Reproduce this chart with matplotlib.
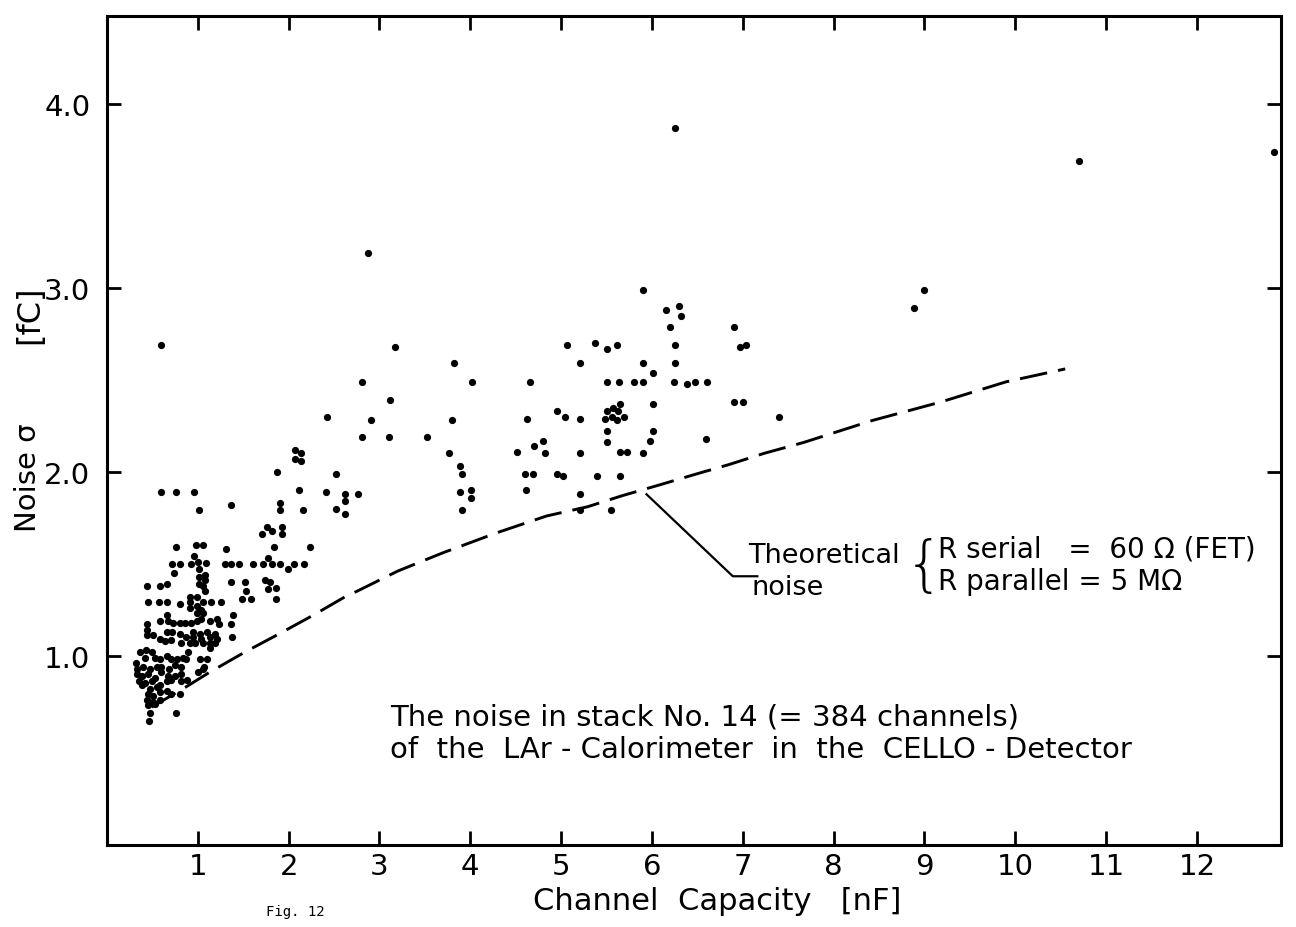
import matplotlib
matplotlib.use("Agg")
import matplotlib.pyplot as plt

plt.rcParams['font.family'] = ['DejaVu Sans']
plt.rcParams['lines.scale_dashes'] = False

# ---- data ----
capacity_nF = [
    # sparse upper region
    0.60, 2.87, 5.90, 6.15, 6.30, 6.32, 6.20, 6.90, 3.17, 6.25, 6.97, 7.04,
    5.06, 5.37, 5.51, 5.62, 3.82, 5.21, 5.90, 6.25, 6.01,
    2.81, 4.02, 4.66, 5.51, 5.64, 5.80, 5.90, 6.24, 6.39, 6.47, 6.61,
    3.12, 5.65, 6.01, 6.90, 7.00, 4.95, 5.50, 5.57, 5.63,
    5.48, 5.56, 5.61, 5.69, 2.91, 3.80, 4.62, 5.04, 5.21, 7.40, 2.42,
    5.51, 6.01, 2.81, 3.11, 3.52, 5.50, 5.98, 6.60, 4.80, 4.70,
    3.77, 4.51, 4.82, 5.21, 5.65, 5.73, 5.90,
    2.07, 2.14, 2.07, 2.14, 1.87, 2.52, 3.89, 3.91,
    4.60, 4.69, 4.95, 5.02, 5.40, 5.65, 2.76,
    3.89, 4.01, 4.01, 4.61, 5.21, 3.91, 5.21, 5.55,
    6.25, 8.88, 9.00, 10.70, 12.85,
    # middle-left region
    0.60, 0.76, 0.955, 1.01, 1.36, 1.90, 1.90, 2.16, 2.11, 2.41, 2.62,
    2.52, 2.62, 2.62, 1.76, 1.82, 1.71, 1.93, 1.93,
    0.755, 0.98, 1.06, 1.31, 1.84, 2.23, 0.955,
    0.72, 0.80, 0.93, 1.00, 1.09, 1.30, 1.37, 1.45,
    1.61, 1.72, 1.77, 1.82, 1.90, 1.99, 2.06, 2.17, 0.74,
    1.01, 1.01, 1.01, 1.08, 1.08, 1.06, 1.08, 0.44, 0.58, 0.66,
    1.36, 1.52, 1.53, 1.74, 1.79, 1.77, 1.86, 1.86,
    # dense cluster
    0.455, 0.575, 0.66, 0.80, 0.91, 0.99, 0.91, 0.99, 1.06, 1.15, 1.25,
    0.91, 1.04, 0.99, 1.06, 1.49, 1.59, 1.39,
    0.585, 0.675, 0.73, 0.80, 0.86, 0.93, 0.99, 1.04, 1.13, 0.66,
    1.21, 1.23, 1.37, 0.44, 0.44, 0.44, 0.51, 0.58, 0.64, 0.70,
    0.66, 0.72, 0.80, 0.87, 0.82, 0.95, 1.02, 1.10, 1.19, 0.95, 1.04, 1.13, 1.21,
    0.97, 1.06, 1.13, 1.19, 1.38, 0.91, 1.13,
    0.36, 0.43, 0.49, 0.42, 0.53, 0.58, 0.66, 0.71, 0.77, 0.84, 0.89, 0.87,
    1.02, 1.10, 1.07, 0.32, 0.33, 0.33,
    0.40, 0.47, 0.55, 0.60, 0.68, 0.75, 0.82,
    0.38, 0.45, 0.53, 0.60, 0.67, 0.75, 0.82, 1.00, 1.06,
    0.35, 0.42, 0.49, 0.58, 0.66, 0.71, 0.38, 0.47, 0.55, 0.82, 0.88,
    0.45, 0.51, 0.58, 0.66, 0.70, 0.80, 0.44, 0.51, 0.58,
    0.45, 0.53, 0.47, 0.76, 0.46,
]
noise_fC = [
    2.69, 3.19, 2.99, 2.88, 2.90, 2.85, 2.79, 2.79, 2.68, 2.69, 2.68, 2.69,
    2.69, 2.70, 2.67, 2.69, 2.59, 2.59, 2.59, 2.59, 2.54,
    2.49, 2.49, 2.49, 2.49, 2.49, 2.49, 2.49, 2.49, 2.48, 2.49, 2.49,
    2.39, 2.37, 2.37, 2.38, 2.38, 2.33, 2.33, 2.35, 2.33,
    2.29, 2.30, 2.28, 2.30, 2.28, 2.28, 2.29, 2.30, 2.29, 2.30, 2.30,
    2.22, 2.22, 2.19, 2.19, 2.19, 2.16, 2.17, 2.18, 2.17, 2.14,
    2.10, 2.11, 2.10, 2.10, 2.11, 2.11, 2.10,
    2.12, 2.10, 2.07, 2.06, 2.00, 1.99, 2.03, 1.99,
    1.99, 1.99, 1.99, 1.98, 1.98, 1.98, 1.88,
    1.89, 1.90, 1.86, 1.90, 1.88, 1.79, 1.79, 1.79,
    3.87, 2.89, 2.99, 3.69, 3.74,
    1.89, 1.89, 1.89, 1.79, 1.82, 1.83, 1.79, 1.79, 1.90, 1.89, 1.88,
    1.80, 1.84, 1.77, 1.70, 1.68, 1.66, 1.70, 1.66,
    1.59, 1.60, 1.60, 1.58, 1.59, 1.59, 1.54,
    1.50, 1.50, 1.50, 1.51, 1.505, 1.50, 1.50, 1.50,
    1.50, 1.50, 1.53, 1.50, 1.50, 1.47, 1.50, 1.50, 1.45,
    1.47, 1.43, 1.39, 1.44, 1.41, 1.38, 1.35, 1.38, 1.38, 1.39,
    1.40, 1.40, 1.35, 1.41, 1.40, 1.36, 1.37, 1.31,
    1.29, 1.29, 1.29, 1.28, 1.32, 1.32, 1.29, 1.27, 1.29, 1.29, 1.29,
    1.26, 1.25, 1.23, 1.23, 1.31, 1.31, 1.22,
    1.19, 1.19, 1.18, 1.18, 1.18, 1.18, 1.19, 1.20, 1.19, 1.22,
    1.20, 1.17, 1.17, 1.17, 1.14, 1.11, 1.11, 1.09, 1.08, 1.085,
    1.13, 1.13, 1.12, 1.10, 1.07, 1.13, 1.12, 1.13, 1.12, 1.10, 1.09, 1.10, 1.09,
    1.07, 1.07, 1.07, 1.07, 1.10, 1.07, 1.04,
    1.02, 1.03, 1.02, 0.99, 0.99, 0.98, 1.00, 0.98, 0.98, 0.99, 1.02, 0.98,
    0.98, 0.98, 0.94, 0.96, 0.93, 0.90,
    0.94, 0.93, 0.94, 0.94, 0.93, 0.95, 0.94,
    0.89, 0.90, 0.88, 0.91, 0.89, 0.89, 0.90, 0.91, 0.93,
    0.86, 0.85, 0.86, 0.84, 0.86, 0.87, 0.84, 0.82, 0.83, 0.86, 0.87,
    0.79, 0.78, 0.80, 0.81, 0.79, 0.79, 0.76, 0.75, 0.76,
    0.73, 0.735, 0.69, 0.69, 0.645,
]

theory_capacity = [0.49, 0.87, 1.13, 1.52, 1.90, 2.27, 2.62, 2.75, 3.2, 3.7,
                   4.3, 4.84, 5.29, 5.67, 6.09, 6.50, 6.85, 7.23, 7.67, 8.43,
                   9.18, 9.90, 10.55]
theory_noise = [0.72, 0.83, 0.91, 1.02, 1.12, 1.22, 1.32, 1.35, 1.46, 1.56,
                1.67, 1.76, 1.81, 1.87, 1.93, 1.99, 2.04, 2.10, 2.16, 2.28,
                2.38, 2.49, 2.56]

x_ticks = list(range(1, 13))
x_tick_labels = [str(t) for t in x_ticks]
y_ticks = [1.0, 2.0, 3.0, 4.0]
y_tick_labels = ["1.0", "2.0", "3.0", "4.0"]

# ---- figure ----
W, H = 1296, 928
fig = plt.figure(figsize=(W / 100, H / 100), dpi=100)
ax = fig.add_axes([107 / W, 82 / H, 1174.4 / W, 829 / H])

ax.plot(capacity_nF, noise_fC, linestyle='none', marker='o', markersize=5.2,
        color='black', markeredgewidth=0)
ax.plot(theory_capacity, theory_noise, color='black', linewidth=2.1,
        dashes=(20, 8), solid_capstyle='butt', dash_capstyle='butt')

# pointer from the theoretical curve to its label
ax.plot([5.94, 6.89, 7.16], [1.878, 1.432, 1.432], color='black', linewidth=1.6,
        clip_on=False)

ax.set_xlim(0, 12.93)
ax.set_ylim(-0.03, 4.48)
ax.set_xticks(x_ticks)
ax.set_xticklabels(x_tick_labels)
ax.set_yticks(y_ticks)
ax.set_yticklabels(y_tick_labels)
ax.tick_params(direction='in', length=10, width=2.0, labelsize=21,
               top=True, right=True)
ax.tick_params(axis='x', pad=5)
ax.tick_params(axis='y', pad=12)
for s in ax.spines.values():
    s.set_linewidth(2.2)

def ftext(x, y, s, **kw):
    fig.text(x / W, 1 - y / H, s, **kw)

ftext(28, 478, "Noise σ", rotation=90, ha='center', va='center', fontsize=21)
ftext(30, 315, "[fC]", rotation=90, ha='center', va='center', fontsize=23)
ftext(717, 902, "Channel  Capacity   [nF]", ha='center', va='center', fontsize=22)
ftext(295, 912, "Fig. 12", ha='center', va='center', fontsize=10,
      family='DejaVu Sans Mono')

ftext(390, 718, "The noise in stack No. 14 (= 384 channels)", ha='left',
      va='center', fontsize=21)
ftext(390, 750, "of  the  LAr - Calorimeter  in  the  CELLO - Detector",
      ha='left', va='center', fontsize=21)
ftext(748, 556, "Theoretical", ha='left', va='center', fontsize=19.5)
ftext(752, 588, "noise", ha='left', va='center', fontsize=19.5)
ftext(924, 568, "{", ha='center', va='center', fontsize=44, fontweight='light')
ftext(938, 550, "R serial   =  60 Ω (FET)", ha='left', va='center', fontsize=20)
ftext(938, 582, "R parallel = 5 MΩ", ha='left', va='center', fontsize=20)

fig.savefig("out.png", dpi=100, facecolor='white')
